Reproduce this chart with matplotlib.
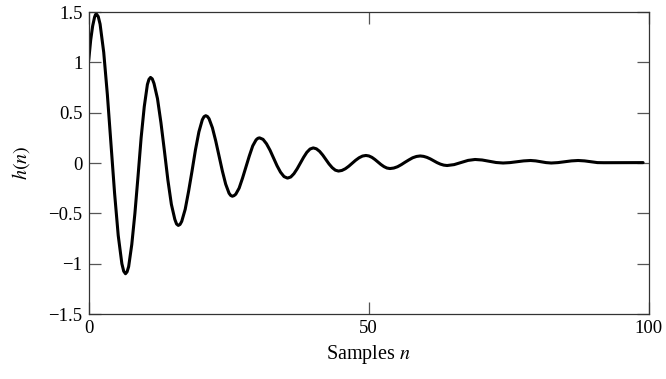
import matplotlib
matplotlib.use("Agg")
import matplotlib.pyplot as plt

# damped impulse response h(n)
n_vals = [0, 0.35, 0.7, 1.05, 1.22, 1.38,
          1.70, 2.03, 2.68, 3.33, 3.98, 4.62, 5.27, 5.92, 6.25, 6.57,
          6.85, 7.13, 7.69, 8.25, 8.81, 9.36, 9.92, 10.48, 10.76, 11.04,
          11.35, 11.66, 12.28, 12.90, 13.52, 14.14, 14.76, 15.38, 15.69, 16.0,
          16.31, 16.61, 17.23, 17.84, 18.45, 19.06, 19.68, 20.29, 20.59, 20.9,
          21.20, 21.49, 22.09, 22.68, 23.28, 23.87, 24.46, 25.06, 25.35, 25.65,
          25.95, 26.26, 26.86, 27.47, 28.08, 28.68, 29.29, 29.89, 30.20, 30.5,
          31.13, 31.75, 32.38, 33.0, 33.63, 34.25, 34.88, 35.5,
          36.08, 36.65, 37.23, 37.8, 38.38, 38.95, 39.53, 40.1,
          40.66, 41.23, 41.79, 42.35, 42.91, 43.48, 44.04, 44.6,
          45.21, 45.83, 46.44, 47.05, 47.66, 48.28, 48.89, 49.5,
          50.04, 50.58, 51.11, 51.65, 52.19, 52.73, 53.26, 53.8,
          54.48, 55.15, 55.83, 56.5, 57.18, 57.85, 58.53, 59.2,
          59.8, 60.4, 61.0, 61.6, 62.2, 62.8, 63.4, 64.0,
          65.25, 66.5, 67.75, 69.0,
          70.25, 71.5, 72.75, 74.0,
          75.23, 76.45, 77.68, 78.9,
          79.83, 80.75, 81.68, 82.6,
          83.8, 85.0, 86.2, 87.4,
          88.55, 89.7, 90.85, 92.0,
          95.5, 99.0]

h_vals = [1.02, 1.22, 1.36, 1.45, 1.475, 1.48,
          1.455, 1.38, 1.10, 0.68, 0.19, -0.30, -0.72, -1.00, -1.075, -1.10,
          -1.081, -1.03, -0.81, -0.50, -0.13, 0.25, 0.56, 0.78, 0.831, 0.85,
          0.836, 0.79, 0.64, 0.40, 0.12, -0.17, -0.41, -0.56, -0.606, -0.62,
          -0.610, -0.58, -0.46, -0.28, -0.08, 0.13, 0.31, 0.43, 0.460, 0.47,
          0.462, 0.44, 0.35, 0.22, 0.07, -0.08, -0.21, -0.30, -0.322, -0.33,
          -0.324, -0.31, -0.25, -0.15, -0.04, 0.07, 0.17, 0.23, 0.245, 0.25,
          0.235, 0.191, 0.127, 0.05, -0.027, -0.091, -0.135, -0.15,
          -0.139, -0.106, -0.057, 0.0, 0.057, 0.106, 0.139, 0.15,
          0.141, 0.116, 0.079, 0.035, -0.009, -0.046, -0.071, -0.08,
          -0.074, -0.057, -0.032, -0.003, 0.027, 0.052, 0.069, 0.075,
          0.070, 0.056, 0.035, 0.01, -0.015, -0.036, -0.050, -0.055,
          -0.050, -0.037, -0.016, 0.008, 0.031, 0.052, 0.065, 0.07,
          0.066, 0.056, 0.041, 0.023, 0.004, -0.011, -0.021, -0.025,
          -0.016, 0.005, 0.026, 0.035,
          0.030, 0.018, 0.005, 0.0,
          0.004, 0.0125, 0.021, 0.025,
          0.021, 0.0125, 0.004, 0.0,
          0.004, 0.0125, 0.021, 0.025,
          0.021, 0.0125, 0.004, 0.003,
          0.004, 0.004]

x_ticks = [0, 50, 100]
y_ticks = [-1.5, -1, -0.5, 0, 0.5, 1, 1.5]
y_ticklabels = ["\u22121.5", "\u22121", "\u22120.5", "0", "0.5", "1", "1.5"]

plt.rcParams["font.family"] = ["Liberation Serif", "DejaVu Serif"]
plt.rcParams["mathtext.fontset"] = "stix"

fig = plt.figure(figsize=(6.66, 3.79), dpi=100)
ax = fig.add_axes([0.1332, 0.1715, 0.974 - 0.1332, 0.9683 - 0.1715])

ax.plot(n_vals, h_vals, color="black", linewidth=2.2,
        solid_joinstyle="round", solid_capstyle="round")

ax.set_xlim(0, 100)
ax.set_ylim(-1.5, 1.5)
ax.set_xticks(x_ticks)
ax.set_yticks(y_ticks)
ax.set_yticklabels(y_ticklabels)

for s in ax.spines.values():
    s.set_linewidth(0.9)
    s.set_color("#333333")

ax.tick_params(direction="in", length=8.6, width=0.9, color="#555555",
               top=True, right=True, labelsize=13.5, pad=4.5)

ax.set_xlabel("Samples $n$", fontsize=14.5, labelpad=4)
ax.set_ylabel("$h(n)$", fontsize=14.5, labelpad=12)

fig.savefig("out.png", dpi=100)
